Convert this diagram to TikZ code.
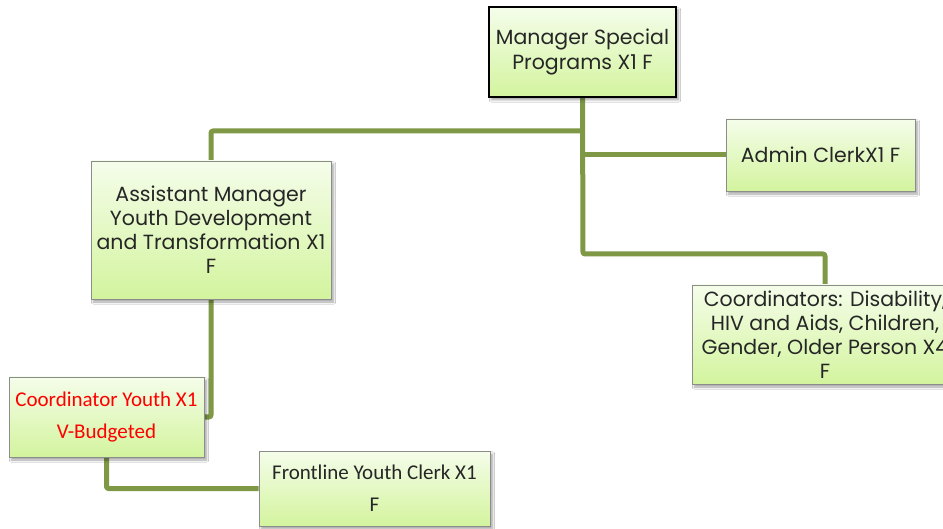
\documentclass[tikz,border=0pt]{standalone}
\usepackage{fontspec}
\setmainfont{Poppins}
\newfontfamily\bodyfont{Carlito}
\usetikzlibrary{shadows.blur,backgrounds}

\definecolor{linkgreen}{RGB}{126,152,70}
\definecolor{boxtop}{RGB}{245,253,234}
\definecolor{boxbottom}{RGB}{211,244,158}
\definecolor{boxedge}{RGB}{140,140,140}

\tikzset{
  post/.style={rectangle, draw=boxedge, line width=0.9pt,
    top color=boxtop, bottom color=boxbottom, align=center,
    inner sep=0pt, text=black!85,
    blur shadow={shadow xshift=2.5pt, shadow yshift=-3pt,
      shadow blur steps=6, shadow opacity=35},
    font=\fontsize{20.5}{24}\selectfont},
  headpost/.style={post, draw=black, line width=2.4pt},
  calpost/.style={post, font=\bodyfont\fontsize{21}{32}\selectfont},
  conn/.style={draw=linkgreen, line width=5pt, line join=round,
    rounded corners=2pt}
}

\begin{document}
\begin{tikzpicture}[x=1pt, y=-1pt]
  \clip (0,0) rectangle (943,529);

  \node[headpost, minimum width=187pt, minimum height=90pt] (man) at (582.5,52)
    {\raisebox{-3pt}{\shortstack{Manager Special\\[1pt]Programs X1 F}}};
  \node[post, minimum width=189pt, minimum height=72pt] (admin) at (820.5,155)
    {Admin ClerkX1 F};
  \node[post, minimum width=240pt, minimum height=138pt] (asst) at (211,230)
    {Assistant Manager\\Youth Development\\and Transformation X1\\F};
  \node[post, minimum width=266pt, minimum height=99pt] (coords) at (825,334.5)
    {Coordinators: Disability,\\HIV and Aids, Children,\\Gender, Older Person X4\\F};
  \node[calpost, text=red, minimum width=195pt, minimum height=80pt] (cy) at (106.5,417)
    {Coordinator Youth X1\\V-Budgeted};
  \node[calpost, minimum width=231pt, minimum height=75pt] (fl) at (374.5,488.5)
    {Frontline Youth Clerk X1\\F};

  % reporting lines, kept behind the boxes
  \coordinate (jleft) at (583,131);
  \coordinate (jadmin) at (583,155);
  \coordinate (jlow) at (583,254);
  \begin{scope}[on background layer]
    \fill[white] (0,0) rectangle (943,529);
    \draw[conn] (man.south) -- (jlow) -| (coords.north);
    \draw[conn] (jleft) -| (asst.north);
    \draw[conn] (jadmin) -- (admin.west);
    \draw[conn] (asst.south) |- (cy.east);
    \draw[conn] (cy.south) |- (fl.west);
  \end{scope}
\end{tikzpicture}
\end{document}
